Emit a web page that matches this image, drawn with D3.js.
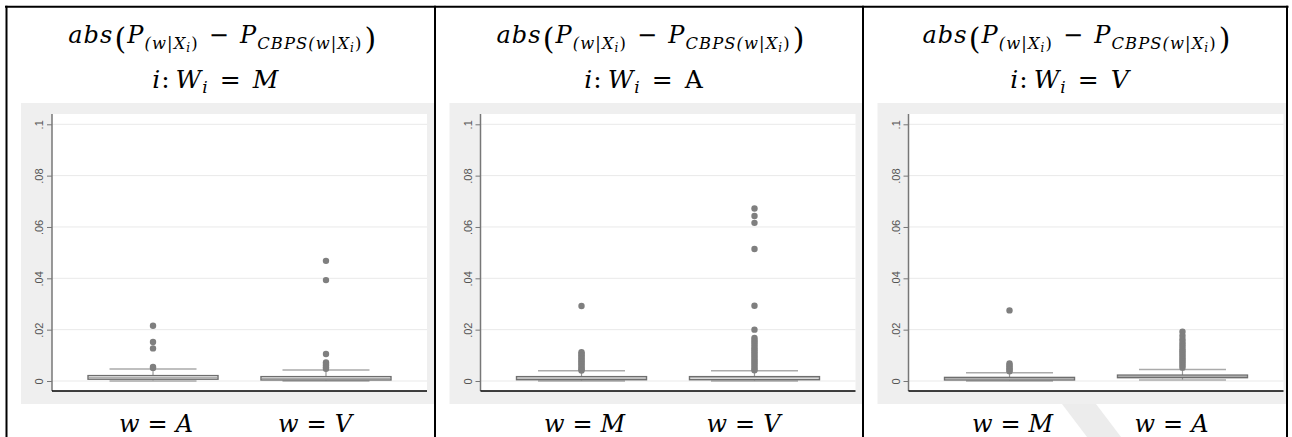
<!DOCTYPE html>
<html>
<head>
<meta charset="utf-8">
<script src="https://cdn.jsdelivr.net/npm/d3@7"></script>
<style>
  body { margin: 0; background: #fff; }
</style>
</head>
<body>
<div id="chart"></div>
<script>
// données
const treatGroups = ["M", "A", "V"];
const treatItalic = [true, false, true];
const compareGroups = [["A", "V"], ["M", "V"], ["M", "A"]];
const q1Values = [[0.0007, 0.0004], [0.0005, 0.0005], [0.0004, 0.0013]];
const medianValues = [[0.0013, 0.0010], [0.0011, 0.0012], [0.0009, 0.0018]];
const q3Values = [[0.0021, 0.0017], [0.0017, 0.0017], [0.0014, 0.0023]];
const lowerAdjValues = [[0, 0], [0, 0], [0, 0.0004]];
const upperAdjValues = [[0.0047, 0.0043], [0.0040, 0.0040], [0.0032, 0.0045]];
const outlierValues = [
  [
    [0.0215, 0.0152, 0.0127, 0.0055, 0.0051],
    [0.0468, 0.0393, 0.0105, 0.0072, 0.0066, 0.0060, 0.0054, 0.0048]
  ],
  [
    [0.0292, 0.0112, 0.0106, 0.0100, 0.0094, 0.0088, 0.0082, 0.0076, 0.0070, 0.0064, 0.0058, 0.0052, 0.0046, 0.0041],
    [0.0672, 0.0643, 0.0616, 0.0514, 0.0293, 0.0200, 0.0168, 0.0160, 0.0152, 0.0144, 0.0136, 0.0128, 0.0120,
     0.0112, 0.0104, 0.0096, 0.0088, 0.0080, 0.0072, 0.0064, 0.0056, 0.0048, 0.0042]
  ],
  [
    [0.0275, 0.0068, 0.0062, 0.0056, 0.0050, 0.0044, 0.0038],
    [0.0192, 0.0176, 0.0163, 0.0152, 0.0142, 0.0133, 0.0124, 0.0116, 0.0108, 0.0100, 0.0092, 0.0084, 0.0076,
     0.0068, 0.0060, 0.0052]
  ]
];
const yTicks = [0, 0.02, 0.04, 0.06, 0.08, 0.1];

// dimensions
const width = 1292;
const height = 437;
const cellEdges = [6.5, 435, 863, 1287];
const grayTop = 103, grayBottom = 404;
const plotTop = 114, plotBottom = 391;
const plotWidth = 375;
const boxWidth = 130, capWidth = 87;
const mathFont = "'DejaVu Serif', serif";

const svg = d3.select("#chart")
  .append("svg")
  .attr("width", width)
  .attr("height", height);

// filigrane en bas à droite
svg.append("path")
  .attr("d", "M1062,404L1096,404L1121,437L1087,437Z")
  .attr("fill", "#ececec");

// ajoute une suite de morceaux de texte (indices, etc.)
function writeMath(text, parts) {
  let level = 0;
  parts.forEach(p => {
    text.append("tspan")
      .attr("dy", p.off - level)
      .attr("dx", p.dx || 0)
      .attr("font-size", p.size)
      .attr("font-style", p.italic ? "italic" : "normal")
      .text(p.t);
    level = p.off;
  });
}

function titleLine1(size) {
  const sub = size * 0.68, sub2 = size * 0.5;
  const subPart = (prefix) => [
    { t: prefix, size: sub, italic: true, off: 6 },
    { t: "i", size: sub2, italic: true, off: 9 },
    { t: ")", size: sub, italic: false, off: 6 }
  ];
  return [
    { t: "abs", size, italic: true, off: 0 },
    { t: "(", size: size * 1.25, italic: false, off: 6, dx: 1 },
    { t: "P", size, italic: true, off: 0 },
    ...subPart("(w|X"),
    { t: "−", size, italic: false, off: 0, dx: 10 },
    { t: "P", size, italic: true, off: 0, dx: 10 },
    ...subPart("CBPS(w|X"),
    { t: ")", size: size * 1.25, italic: false, off: 6, dx: 2 }
  ];
}

treatGroups.forEach((g, p) => {
  const cellL = cellEdges[p], cellR = cellEdges[p + 1];
  const cx = (cellL + cellR) / 2;
  const grayL = cellL + 14.5;
  const grayR = Math.min(grayL + 413, cellR - 1);
  const plotL = grayL + 31;
  const plotR = plotL + plotWidth;

  const y = d3.scaleLinear()
    .domain([0, 0.1])
    .range([plotBottom - 10, plotTop + 10.3]);

  const x = d3.scalePoint()
    .domain(compareGroups[p])
    .range([plotL, plotR])
    .padding(0.584);

  // Titres
  const t1 = svg.append("text")
    .attr("x", cx + 2).attr("y", 43)
    .attr("text-anchor", "middle")
    .attr("font-family", mathFont)
    .attr("letter-spacing", 1.1)
    .attr("fill", "#000");
  writeMath(t1, titleLine1(24));

  const t2 = svg.append("text")
    .attr("x", cx - 5).attr("y", 88)
    .attr("text-anchor", "middle")
    .attr("font-family", mathFont)
    .attr("letter-spacing", 1)
    .attr("fill", "#000");
  writeMath(t2, [
    { t: "i", size: 25, italic: true, off: 0 },
    { t: ":", size: 25, italic: false, off: 0 },
    { t: "W", size: 25, italic: true, off: 0, dx: 5 },
    { t: "i", size: 17, italic: true, off: 5 },
    { t: "=", size: 25, italic: false, off: 0, dx: 11 },
    { t: g, size: 25, italic: treatItalic[p], off: 0, dx: 11 }
  ]);

  // fond du graphique
  svg.append("rect")
    .attr("x", grayL).attr("y", grayTop)
    .attr("width", grayR - grayL).attr("height", grayBottom - grayTop)
    .attr("fill", "#efefef");

  svg.append("rect")
    .attr("x", plotL).attr("y", plotTop)
    .attr("width", Math.min(plotWidth, grayR - plotL)).attr("height", plotBottom - plotTop)
    .attr("fill", "#fff");

  // grille
  svg.append("g")
    .selectAll("line")
    .data(yTicks)
    .join("line")
    .attr("x1", plotL).attr("x2", plotR)
    .attr("y1", d => y(d)).attr("y2", d => y(d))
    .attr("stroke", "#e9e9e9")
    .attr("stroke-width", 1);

  // Axe Y
  const yAxis = svg.append("g")
    .attr("transform", `translate(${plotL},0)`)
    .call(d3.axisLeft(y)
      .tickValues(yTicks)
      .tickSize(5)
      .tickFormat(d => d === 0 ? "0" : String(d).replace(/^0/, "")));
  yAxis.select(".domain").remove();
  yAxis.selectAll(".tick line").attr("stroke", "#777");
  yAxis.selectAll(".tick text")
    .attr("x", null).attr("dy", null)
    .attr("transform", "translate(-13,0) rotate(-90)")
    .attr("text-anchor", "middle")
    .attr("dominant-baseline", "central")
    .attr("font-family", "'Liberation Sans', Arial, sans-serif")
    .attr("font-size", 11)
    .attr("fill", "#555");

  svg.append("line")
    .attr("x1", plotL).attr("x2", plotL)
    .attr("y1", plotTop).attr("y2", plotBottom)
    .attr("stroke", "#777").attr("stroke-width", 1.5);

  svg.append("line")
    .attr("x1", plotL).attr("x2", plotR)
    .attr("y1", plotBottom).attr("y2", plotBottom)
    .attr("stroke", "#000").attr("stroke-width", 1.3);

  // Boîtes
  compareGroups[p].forEach((c, k) => {
    const bx = x(c);
    const gBox = svg.append("g");

    gBox.append("line")
      .attr("x1", bx).attr("x2", bx)
      .attr("y1", y(q3Values[p][k])).attr("y2", y(upperAdjValues[p][k]))
      .attr("stroke", "#999").attr("stroke-width", 1.2);
    gBox.append("line")
      .attr("x1", bx).attr("x2", bx)
      .attr("y1", y(q1Values[p][k])).attr("y2", y(lowerAdjValues[p][k]))
      .attr("stroke", "#999").attr("stroke-width", 1.2);

    [upperAdjValues[p][k], lowerAdjValues[p][k]].forEach(v => {
      gBox.append("line")
        .attr("x1", bx - capWidth / 2).attr("x2", bx + capWidth / 2)
        .attr("y1", y(v)).attr("y2", y(v))
        .attr("stroke", "#aaa").attr("stroke-width", 1.5);
    });

    gBox.append("rect")
      .attr("x", bx - boxWidth / 2)
      .attr("y", y(q3Values[p][k]))
      .attr("width", boxWidth)
      .attr("height", y(q1Values[p][k]) - y(q3Values[p][k]))
      .attr("fill", "#fff")
      .attr("stroke", "#6e6e6e")
      .attr("stroke-width", 1.4);

    gBox.append("line")
      .attr("x1", bx - boxWidth / 2).attr("x2", bx + boxWidth / 2)
      .attr("y1", y(medianValues[p][k])).attr("y2", y(medianValues[p][k]))
      .attr("stroke", "#8a8a8a").attr("stroke-width", 0.8);

    gBox.selectAll("circle")
      .data(outlierValues[p][k])
      .join("circle")
      .attr("cx", bx)
      .attr("cy", d => y(d))
      .attr("r", 3.2)
      .attr("fill", "#7f7f7f");

    // étiquette sous le graphique
    const lab = svg.append("text")
      .attr("x", bx + (k === 0 ? 3 : -11))
      .attr("y", 432)
      .attr("text-anchor", "middle")
      .attr("font-family", mathFont)
      .attr("fill", "#000");
    writeMath(lab, [
      { t: "w", size: 24, italic: true, off: 0 },
      { t: "=", size: 24, italic: false, off: 0, dx: 8 },
      { t: c, size: 24, italic: true, off: 0, dx: 8 }
    ]);
  });
});

// bordures du tableau
svg.append("line")
  .attr("x1", 5).attr("x2", 1288.5)
  .attr("y1", 6.7).attr("y2", 6.7)
  .attr("stroke", "#000").attr("stroke-width", 2);

svg.append("g")
  .selectAll("line")
  .data(cellEdges)
  .join("line")
  .attr("x1", d => d).attr("x2", d => d)
  .attr("y1", 5.7).attr("y2", height)
  .attr("stroke", "#000")
  .attr("stroke-width", 2);
</script>
</body>
</html>
